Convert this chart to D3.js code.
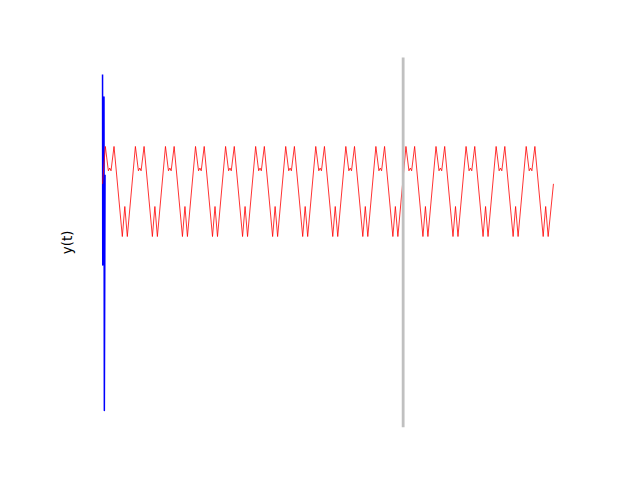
<!DOCTYPE html>
<html><head><meta charset="utf-8">
<script src="https://cdn.jsdelivr.net/npm/d3@7"></script>
<style>body{margin:0;background:#fff}</style>
</head><body>
<svg id="chart" width="640" height="480"></svg>
<script>
// ---- data ----
const tStart = 0, tEnd = 15;                 // time span, in periods of the red signal
const periodCount = 15;
// key points of one period of the red signal (phase within the period, value)
const cyclePhase = [0.093, 0.193, 0.239, 0.282, 0.382, 0.658, 0.741, 0.824];
const cycleValue = [1.0,   0.46,  0.52,  0.46,  1.0,  -1.0,  -0.333, -1.0];
const redStartValue = 0.17, redEndValue = 0.17;
// blue transient at the very start
const blueT     = [0, 0.0067, 0.015, 0.023, 0.032, 0.040, 0.048, 0.060, 0.083];
const blueValue = [2.6, -1.63, 1.37, -1.56, 1.33, -1.52, 2.1, -4.86, 0.37];
const markerT = 10;
const yLabelText = "y(t)";

// ---- build series ----
const redPoints = [[tStart, redStartValue]];
for (let k = 0; k < periodCount; k++) {
  cyclePhase.forEach((p, i) => redPoints.push([k + p, cycleValue[i]]));
}
redPoints.push([tEnd, redEndValue]);
const bluePoints = blueT.map((t, i) => [t, blueValue[i]]);

// ---- layout ----
const plotLeft = 80, plotRight = 576, plotTop = 57.6, plotBottom = 427.2;
const svg = d3.select("#chart");

const xSpan = tEnd - tStart;
const x = d3.scaleLinear()
  .domain([tStart - 0.05 * xSpan, tEnd + 0.05 * xSpan])
  .range([plotLeft, plotRight]);
const allVals = bluePoints.map(d => d[1]).concat(redPoints.map(d => d[1]));
const [vmin, vmax] = d3.extent(allVals);
const ySpan = vmax - vmin;
const y = d3.scaleLinear()
  .domain([vmin - 0.05 * ySpan, vmax + 0.05 * ySpan])
  .range([plotBottom, plotTop]);

const line = d3.line().x(d => x(d[0])).y(d => y(d[1])).curve(d3.curveLinear);

svg.append("path")
  .attr("d", line(bluePoints))
  .attr("fill", "none")
  .attr("stroke", "#0000ff")
  .attr("stroke-width", 1.5)
  .attr("stroke-linejoin", "round");

svg.append("path")
  .attr("d", line(redPoints))
  .attr("fill", "none")
  .attr("stroke", "#ff0000")
  .attr("stroke-opacity", 0.8)
  .attr("stroke-width", 1)
  .attr("stroke-linejoin", "round");

svg.append("line")
  .attr("x1", x(markerT)).attr("x2", x(markerT))
  .attr("y1", y.range()[1]).attr("y2", y.range()[0])
  .attr("stroke", "#c0c0c0")
  .attr("stroke-width", 2.8);

svg.append("text")
  .attr("transform", `translate(71.5,${(plotTop + plotBottom) / 2}) rotate(-90)`)
  .attr("text-anchor", "middle")
  .attr("font-family", "DejaVu Sans, sans-serif")
  .attr("font-size", "13.33px")
  .attr("fill", "#000")
  .text(yLabelText);
</script>
</body></html>
